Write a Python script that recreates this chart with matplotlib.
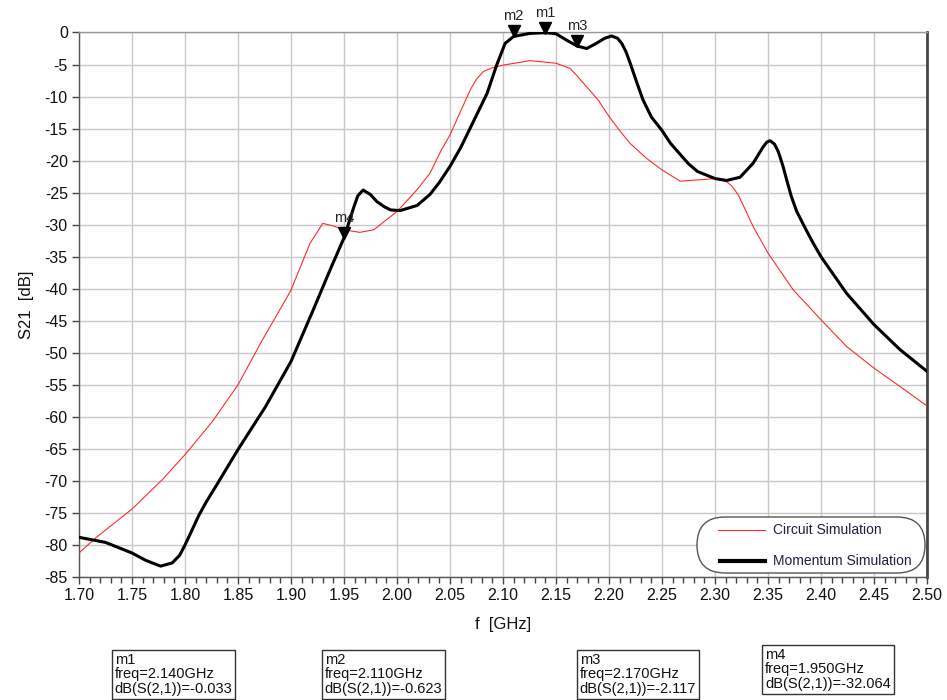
import matplotlib
matplotlib.use("Agg")
import matplotlib.pyplot as plt
from matplotlib.patches import FancyBboxPatch
from matplotlib.lines import Line2D
from matplotlib.ticker import MultipleLocator
from matplotlib.transforms import offset_copy, IdentityTransform

plt.rcParams["font.family"] = ["Liberation Sans", "DejaVu Sans"]

# Momentum (EM) simulation, S21 in dB
mom_freq = [1.700, 1.725, 1.750, 1.763, 1.777, 1.788, 1.795, 1.800, 1.806, 1.813,
            1.820, 1.830, 1.850, 1.876, 1.900, 1.921, 1.937, 1.950, 1.959, 1.963,
            1.968, 1.975, 1.981, 1.988, 1.994, 2.003, 2.019, 2.031, 2.040, 2.050,
            2.060, 2.069, 2.085, 2.094, 2.102, 2.110, 2.125, 2.140, 2.150, 2.160,
            2.170, 2.179, 2.188, 2.196, 2.2025, 2.208, 2.212, 2.216, 2.220, 2.226,
            2.232, 2.240, 2.250, 2.258, 2.267, 2.275, 2.2835, 2.300, 2.311, 2.3236,
            2.336, 2.3456, 2.349, 2.352, 2.356, 2.3597, 2.364, 2.3676, 2.372, 2.377,
            2.3865, 2.393, 2.400, 2.424, 2.450, 2.4745, 2.500]
mom_db = [-78.8, -79.6, -81.25, -82.4, -83.3, -82.8, -81.6, -80.0, -77.9, -75.4,
          -73.3, -70.6, -65.1, -58.4, -51.35, -43.3, -37.0, -32.064, -27.4, -25.5,
          -24.6, -25.3, -26.4, -27.2, -27.7, -27.8, -27.0, -25.3, -23.4, -20.9,
          -18.0, -14.95, -9.5, -5.1, -1.7, -0.623, -0.15, -0.033, -0.2, -1.2,
          -2.117, -2.5, -1.7, -0.9, -0.55, -0.9, -1.7, -3.0, -4.8, -7.7,
          -10.5, -13.2, -15.3, -17.3, -19.0, -20.5, -21.7, -22.8, -23.1, -22.6,
          -20.4, -17.8, -17.1, -16.9, -17.4, -18.6, -20.8, -23.0, -25.6, -27.9,
          -31.0, -33.0, -35.0, -40.7, -45.6, -49.5, -52.9]

# Circuit (schematic) simulation, S21 in dB
cir_freq = [1.700, 1.7157, 1.750, 1.7786, 1.800, 1.826, 1.850, 1.873, 1.895, 1.900,
            1.918, 1.930, 1.940, 1.950, 1.965, 1.978, 2.000, 2.0186, 2.031, 2.042,
            2.050, 2.060, 2.069, 2.075, 2.0814, 2.090, 2.100, 2.1255, 2.150, 2.1632,
            2.170, 2.179, 2.190, 2.200, 2.210, 2.2198, 2.235, 2.250, 2.267, 2.2858,
            2.300, 2.311, 2.316, 2.322, 2.336, 2.350, 2.3739, 2.400, 2.424, 2.450,
            2.4745, 2.500]
cir_db = [-81.25, -78.9, -74.4, -69.8, -65.9, -60.7, -55.0, -48.0, -41.7, -40.2,
          -32.9, -29.8, -30.2, -30.8, -31.2, -30.8, -27.95, -24.6, -22.0, -18.3,
          -16.0, -12.3, -9.0, -7.3, -6.1, -5.5, -5.1, -4.4, -4.8, -5.6,
          -6.8, -8.5, -10.6, -13.1, -15.3, -17.3, -19.6, -21.45, -23.2, -23.0,
          -22.8, -23.3, -24.0, -25.35, -30.3, -34.45, -40.2, -44.85, -49.0, -52.4,
          -55.25, -58.3]

# markers on the Momentum trace
marker_names = ["m1", "m2", "m3", "m4"]
marker_freq = [2.140, 2.110, 2.170, 1.950]
marker_db = [-0.033, -0.623, -2.117, -32.064]

fig = plt.figure(figsize=(9.47, 7.0), dpi=100)
ax = fig.add_axes([0.0834, 0.1757, 0.8955, 0.7779])

ax.plot(cir_freq, cir_db, color="#ff2a2a", linewidth=0.8, zorder=3,
        solid_joinstyle="round")
ax.plot(mom_freq, mom_db, color="black", linewidth=2.2, zorder=4,
        solid_joinstyle="round", solid_capstyle="round")

# marker triangles sit on the trace, name above them
tri_tf = offset_copy(ax.transData, fig=fig, x=0, y=5, units="dots")
txt_tf = offset_copy(ax.transData, fig=fig, x=0, y=13, units="dots")
for name, f, db in zip(marker_names, marker_freq, marker_db):
    ax.plot(f, db, marker="v", markersize=9, color="black", transform=tri_tf,
            clip_on=False, zorder=6)
    ax.text(f, db, name, transform=txt_tf, ha="center", va="bottom",
            fontsize=10.5, color="#222222", clip_on=False, zorder=6)

ax.set_xlim(1.70, 2.50)
ax.set_ylim(-85, 0)
ax.xaxis.set_major_locator(MultipleLocator(0.05))
ax.xaxis.set_minor_locator(MultipleLocator(0.01))
ax.yaxis.set_major_locator(MultipleLocator(5))
ax.xaxis.set_major_formatter(plt.FuncFormatter(lambda v, p: f"{v:.2f}"))
ax.yaxis.set_major_formatter(plt.FuncFormatter(lambda v, p: f"{v:.0f}"))
ax.tick_params(axis="both", which="major", direction="out", length=5, width=1,
               color="#444444", labelsize=11.5, labelcolor="#111111", pad=3)
ax.tick_params(axis="x", which="minor", direction="out", length=4, width=1,
               color="#444444")
ax.grid(True, which="major", color="#c8c8c8", linewidth=1.0)
ax.set_axisbelow(True)

for side in ("left", "bottom"):
    ax.spines[side].set_color("#555555")
    ax.spines[side].set_linewidth(1.0)
ax.spines["right"].set_color("#444444")
ax.spines["right"].set_linewidth(2.0)
ax.spines["top"].set_color("#999999")
ax.spines["top"].set_linewidth(1.0)

ax.set_xlabel("f  [GHz]", fontsize=12, color="#111111", labelpad=10)
ax.set_ylabel("S21  [dB]", fontsize=12, color="#111111", labelpad=8)

# pill-shaped legend box in the lower right (pixel coordinates)
leg_box = FancyBboxPatch((697, 127), 228, 56,
                         boxstyle="round,pad=0,rounding_size=28",
                         transform=IdentityTransform(), facecolor="white",
                         edgecolor="#555555", linewidth=1.0, zorder=5)
fig.add_artist(leg_box)
fig.add_artist(Line2D([0.758, 0.808], [0.243, 0.243], color="#ff2a2a",
                      linewidth=0.8, transform=fig.transFigure, zorder=6))
fig.add_artist(Line2D([0.760, 0.808], [0.199, 0.199], color="black",
                      linewidth=3.0, transform=fig.transFigure, zorder=6))
fig.text(0.816, 0.243, "Circuit Simulation", fontsize=10, color="#202040",
         va="center", ha="left", zorder=7)
fig.text(0.816, 0.199, "Momentum Simulation", fontsize=10, color="#202040",
         va="center", ha="left", zorder=7)

# marker readout boxes under the plot
box_x = [0.121, 0.343, 0.612, 0.808]
box_y = [0.006, 0.006, 0.006, 0.013]
for name, f, db, bx, by in zip(marker_names, marker_freq, marker_db, box_x, box_y):
    label = f"{name}\nfreq={f:.3f}GHz\ndB(S(2,1))={db:.3f}"
    fig.text(bx, by, label, fontsize=10.5, color="#111111", ha="left", va="bottom",
             linespacing=1.05,
             bbox=dict(boxstyle="square,pad=0.2", facecolor="white",
                       edgecolor="#333333", linewidth=1.0))

fig.savefig("out.png", dpi=100)
